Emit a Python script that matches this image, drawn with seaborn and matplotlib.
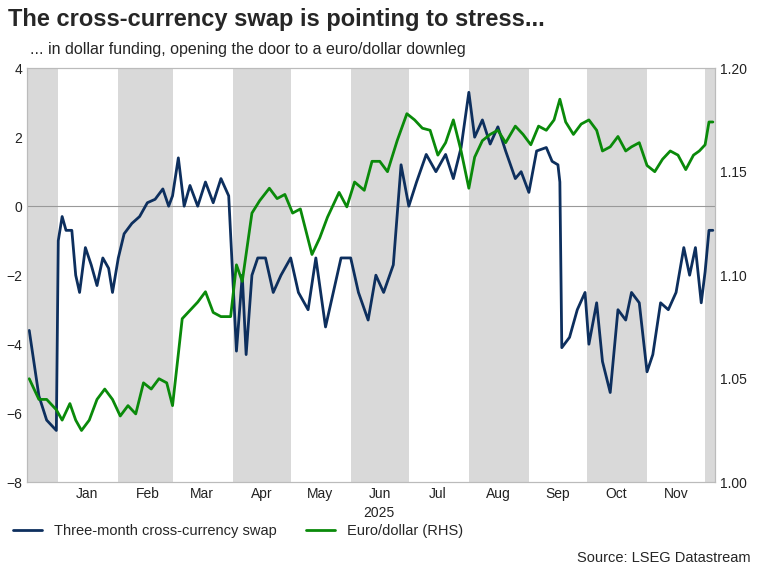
import matplotlib.pyplot as plt
import matplotlib.dates as mdates
import pandas as pd
import seaborn as sns

sns.set_style("white")
plt.rcParams['font.family'] = ['Liberation Sans', 'DejaVu Sans']

# cross-currency swap (LHS)
swap = {
    "2024-12-17": -3.6, "2024-12-22": -5.5, "2024-12-26": -6.2, "2024-12-31": -6.5,
    "2025-01-01": -1.0, "2025-01-03": -0.3, "2025-01-05": -0.7, "2025-01-08": -0.7,
    "2025-01-10": -2.0, "2025-01-12": -2.5, "2025-01-15": -1.2, "2025-01-18": -1.7,
    "2025-01-21": -2.3, "2025-01-24": -1.5, "2025-01-27": -1.8, "2025-01-29": -2.5,
    "2025-02-01": -1.5, "2025-02-04": -0.8, "2025-02-08": -0.5, "2025-02-12": -0.3,
    "2025-02-16": 0.1, "2025-02-20": 0.2, "2025-02-24": 0.5, "2025-02-27": 0.0,
    "2025-03-01": 0.3, "2025-03-04": 1.4, "2025-03-07": 0.0, "2025-03-10": 0.6,
    "2025-03-14": 0.0, "2025-03-18": 0.7, "2025-03-22": 0.1, "2025-03-26": 0.8,
    "2025-03-30": 0.3, "2025-04-03": -4.2, "2025-04-06": -2.0, "2025-04-08": -4.3,
    "2025-04-11": -2.0, "2025-04-14": -1.5, "2025-04-18": -1.5, "2025-04-22": -2.5,
    "2025-04-26": -2.0, "2025-05-01": -1.5, "2025-05-05": -2.5, "2025-05-10": -3.0,
    "2025-05-14": -1.5, "2025-05-19": -3.5, "2025-05-23": -2.5, "2025-05-27": -1.5,
    "2025-06-01": -1.5, "2025-06-05": -2.5, "2025-06-10": -3.3, "2025-06-14": -2.0,
    "2025-06-18": -2.5, "2025-06-23": -1.7, "2025-06-27": 1.2, "2025-07-01": 0.0,
    "2025-07-05": 0.7, "2025-07-10": 1.5, "2025-07-15": 1.0, "2025-07-20": 1.5,
    "2025-07-24": 0.8, "2025-07-28": 1.7, "2025-08-01": 3.3, "2025-08-04": 2.0,
    "2025-08-08": 2.5, "2025-08-12": 1.8, "2025-08-16": 2.3, "2025-08-20": 1.6,
    "2025-08-25": 0.8, "2025-08-28": 1.0, "2025-09-01": 0.4, "2025-09-05": 1.6,
    "2025-09-10": 1.7, "2025-09-13": 1.3, "2025-09-16": 1.2, "2025-09-17": 0.7,
    "2025-09-18": -4.1, "2025-09-22": -3.8, "2025-09-26": -3.0, "2025-09-30": -2.5,
    "2025-10-02": -4.0, "2025-10-06": -2.8, "2025-10-09": -4.5, "2025-10-13": -5.4,
    "2025-10-17": -3.0, "2025-10-21": -3.3, "2025-10-24": -2.5, "2025-10-28": -2.8,
    "2025-11-01": -4.8, "2025-11-04": -4.3, "2025-11-08": -2.8, "2025-11-12": -3.0,
    "2025-11-16": -2.5, "2025-11-20": -1.2, "2025-11-23": -2.0, "2025-11-26": -1.2,
    "2025-11-29": -2.8, "2025-12-01": -1.9, "2025-12-03": -0.7, "2025-12-05": -0.7,
}
# euro/dollar (RHS)
eurusd = {
    "2024-12-17": 1.050, "2024-12-22": 1.040, "2024-12-26": 1.040, "2024-12-31": 1.035,
    "2025-01-03": 1.030, "2025-01-07": 1.038, "2025-01-10": 1.030, "2025-01-13": 1.025,
    "2025-01-17": 1.030, "2025-01-21": 1.040, "2025-01-25": 1.045, "2025-01-29": 1.040,
    "2025-02-02": 1.032, "2025-02-06": 1.037, "2025-02-10": 1.033, "2025-02-14": 1.048,
    "2025-02-18": 1.045, "2025-02-22": 1.050, "2025-02-26": 1.048, "2025-03-01": 1.037,
    "2025-03-04": 1.062, "2025-03-06": 1.079, "2025-03-10": 1.083, "2025-03-14": 1.087,
    "2025-03-18": 1.092, "2025-03-22": 1.082, "2025-03-26": 1.080, "2025-03-31": 1.080,
    "2025-04-03": 1.105, "2025-04-06": 1.097, "2025-04-11": 1.130, "2025-04-15": 1.136,
    "2025-04-20": 1.142, "2025-04-24": 1.137, "2025-04-28": 1.139, "2025-05-02": 1.130,
    "2025-05-06": 1.132, "2025-05-12": 1.110, "2025-05-16": 1.118, "2025-05-20": 1.128,
    "2025-05-26": 1.140, "2025-05-30": 1.133, "2025-06-03": 1.145, "2025-06-08": 1.141,
    "2025-06-12": 1.155, "2025-06-16": 1.155, "2025-06-20": 1.150, "2025-06-25": 1.165,
    "2025-06-30": 1.178, "2025-07-04": 1.175, "2025-07-08": 1.171, "2025-07-12": 1.170,
    "2025-07-16": 1.158, "2025-07-20": 1.164, "2025-07-24": 1.175, "2025-07-28": 1.160,
    "2025-08-01": 1.142, "2025-08-04": 1.157, "2025-08-08": 1.165, "2025-08-12": 1.168,
    "2025-08-16": 1.170, "2025-08-20": 1.164, "2025-08-25": 1.172, "2025-08-29": 1.168,
    "2025-09-02": 1.163, "2025-09-06": 1.172, "2025-09-10": 1.170, "2025-09-14": 1.175,
    "2025-09-17": 1.185, "2025-09-20": 1.174, "2025-09-24": 1.168, "2025-09-28": 1.173,
    "2025-10-02": 1.175, "2025-10-06": 1.170, "2025-10-09": 1.160, "2025-10-13": 1.162,
    "2025-10-17": 1.167, "2025-10-21": 1.160, "2025-10-24": 1.162, "2025-10-28": 1.164,
    "2025-11-01": 1.153, "2025-11-05": 1.150, "2025-11-09": 1.156, "2025-11-13": 1.160,
    "2025-11-17": 1.158, "2025-11-21": 1.151, "2025-11-25": 1.158, "2025-11-28": 1.160,
    "2025-12-01": 1.163, "2025-12-03": 1.174, "2025-12-05": 1.174,
}

df1 = pd.DataFrame({"date": pd.to_datetime(list(swap)), "value": list(swap.values())})
df2 = pd.DataFrame({"date": pd.to_datetime(list(eurusd)), "value": list(eurusd.values())})

fig = plt.figure(figsize=(7.58, 5.68), dpi=100)
ax = fig.add_axes([0.036, 0.151, 0.907, 0.729])
ax2 = ax.twinx()

start, end = pd.Timestamp("2024-12-16"), pd.Timestamp("2025-12-06")
# grey bands for every other month
for m in ["2024-12", "2025-02", "2025-04", "2025-06", "2025-08", "2025-10", "2025-12"]:
    m0 = pd.Timestamp(m + "-01")
    ax.axvspan(max(m0, start), m0 + pd.offsets.MonthBegin(1), color="#d9d9d9", lw=0, zorder=0)
ax.axhline(0, color="#999999", lw=0.8)

sns.lineplot(data=df1, x="date", y="value", ax=ax, color="#0d2f5e", lw=2)
sns.lineplot(data=df2, x="date", y="value", ax=ax2, color="#0a8a0a", lw=2)

ax.set_xlim(start, end)
ax.set_ylim(-8, 4)
ax2.set_ylim(1.0, 1.2)
ax.set_yticks(range(-8, 5, 2))
ax2.set_yticks([1.00, 1.05, 1.10, 1.15, 1.20])
ax2.set_yticklabels(["1.00", "1.05", "1.10", "1.15", "1.20"])
mids = pd.date_range("2025-01-01", periods=11, freq="MS") + pd.Timedelta(days=15)
ax.set_xticks(mids)
ax.xaxis.set_major_formatter(mdates.DateFormatter("%b"))
ax.set_xlabel("")
ax.set_ylabel("")
ax2.set_ylabel("")
ax.tick_params(length=0, labelsize=10, colors="#222222")
ax2.tick_params(length=0, labelsize=10, colors="#222222")
for a in (ax, ax2):
    for s in a.spines.values():
        s.set_color("#bbbbbb")

fig.text(0.5, 0.09, "2025", ha="center", fontsize=10, color="#222222")
fig.text(0.01, 0.955, "The cross-currency swap is pointing to stress...", fontsize=17, fontweight="bold")
fig.text(0.04, 0.905, "... in dollar funding, opening the door to a euro/dollar downleg", fontsize=11.5)
fig.legend(handles=[plt.Line2D([], [], color="#0d2f5e", lw=2), plt.Line2D([], [], color="#0a8a0a", lw=2)],
           labels=["Three-month cross-currency swap", "Euro/dollar (RHS)"],
           loc="lower left", bbox_to_anchor=(0.0, 0.03), ncol=2, frameon=False, fontsize=10.5)
fig.text(0.99, 0.01, "Source: LSEG Datastream", ha="right", fontsize=10.5)

plt.savefig("out.png")
plt.close()
